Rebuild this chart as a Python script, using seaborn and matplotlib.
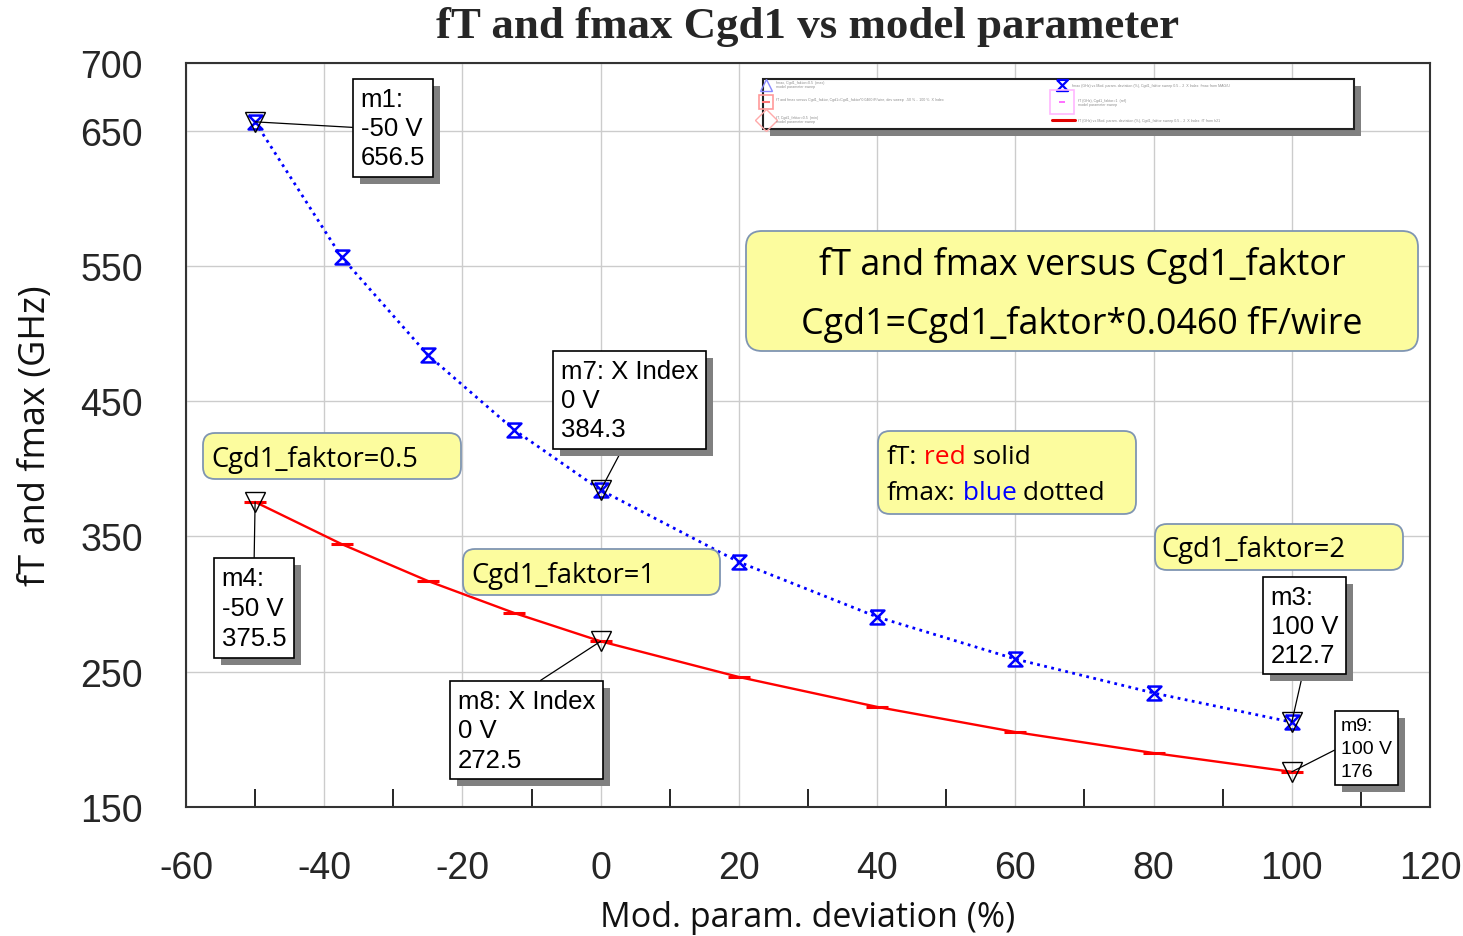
import matplotlib
matplotlib.use("Agg")
import matplotlib.pyplot as plt
import matplotlib.patheffects as pe
from matplotlib.patches import FancyBboxPatch, Rectangle
from matplotlib.lines import Line2D
from matplotlib.transforms import IdentityTransform
import seaborn as sns

W, H = 1463, 937

# ---- data -------------------------------------------------------------
deviation = [-50, -37.5, -25, -12.5, 0, 20, 40, 60, 80, 100]
fmax_ghz = [656.5, 556.6, 484.1, 428.7, 384.3, 331.1, 290.5, 259.4, 234.3, 212.7]
ft_ghz = [375.5, 344.4, 317.1, 293.4, 272.5, 246.1, 224.0, 205.4, 189.9, 176.0]

x_ticks = [-60, -40, -20, 0, 20, 40, 60, 80, 100, 120]
x_minor_ticks = [-50, -30, -10, 10, 30, 50, 70, 90, 110]
y_ticks = [150, 250, 350, 450, 550, 650, 700]

marker_names = ["m1", "m4", "m7", "m8", "m3", "m9"]
marker_kind = ["", "", " X Index", " X Index", "", ""]
marker_dev = [-50, -50, 0, 0, 100, 100]
marker_val = [656.5, 375.5, 384.3, 272.5, 212.7, 176]

title = "fT and fmax Cgd1 vs model parameter"
x_label = "Mod. param. deviation (%)"
y_label = "fT and fmax (GHz)"

# ---- style ------------------------------------------------------------
sns.set_theme(style="white")
plt.rcParams["font.family"] = ["Liberation Sans", "DejaVu Sans"]
plt.rcParams["axes.unicode_minus"] = False

SANS = ["Liberation Sans", "DejaVu Sans"]
UI = ["Open Sans", "DejaVu Sans"]
SERIF = ["Liberation Serif", "DejaVu Serif"]

fig = plt.figure(figsize=(W / 100, H / 100), dpi=100)
ax = fig.add_axes([186 / W, 1 - 808 / H, 1244 / W, 744 / H])
PIX = IdentityTransform()


def px(x, y):
    """top-left pixel coordinates -> display coordinates"""
    return x, H - y


# ---- series -----------------------------------------------------------
hourglass = [(-1, 1), (1, 1), (-1, -1), (1, -1), (-1, 1)]

sns.lineplot(x=deviation, y=fmax_ghz, ax=ax, sort=False, color="#0000ff",
             linewidth=2.0, linestyle=(0, (1, 1.6)), marker=hourglass,
             markersize=10, markeredgewidth=1.8, markerfacecolor="none",
             markeredgecolor="#0000ff", zorder=4)
sns.lineplot(x=deviation, y=ft_ghz, ax=ax, sort=False, color="#ff0000",
             linewidth=1.7, linestyle="-", marker="_", markersize=16,
             markeredgewidth=2.2, markeredgecolor="#ff0000", zorder=4)

# marker triangles on the curves
ax.plot(marker_dev, marker_val, linestyle="none", marker="v", markersize=15,
        markerfacecolor="none", markeredgecolor="black", markeredgewidth=1.0,
        zorder=5)

# ---- axes -------------------------------------------------------------
ax.set_xlim(-60, 120)
ax.set_ylim(150, 700)
ax.set_xticks(x_ticks)
ax.set_xticks(x_minor_ticks, minor=True)
ax.set_yticks(y_ticks)
ax.set_axisbelow(True)
ax.grid(True, which="major", color="#cccccc", linewidth=1.0)
ax.tick_params(axis="x", which="major", length=0, pad=31, labelsize=27)
ax.tick_params(axis="x", which="minor", direction="in", length=13, width=1.2,
               color="black", bottom=True, top=False)
ax.tick_params(axis="y", which="major", length=0, pad=31, labelsize=27,
               left=False)
for lab in ax.get_xticklabels() + ax.get_yticklabels():
    lab.set_family(SANS)
for sp in ax.spines.values():
    sp.set_color("#333333")
    sp.set_linewidth(1.5)

ax.set_xlabel(x_label, fontsize=24.5, family=UI, color="#111111")
ax.set_ylabel(y_label, fontsize=26, family=UI, color="#111111")
ax.xaxis.set_label_coords(0.5, (808 - 918) / 744)
ax.yaxis.set_label_coords((36 - 186) / 1244, (808 - 436) / 744)
ax.xaxis.label.set_va("center")
ax.yaxis.label.set_va("center")

ax.set_title(title, fontsize=32.3, fontweight="bold", family=SERIF,
             y=(808 - 27) / 744, va="center", pad=0)

# ---- marker readouts ----------------------------------------------------
shadow = [pe.withSimplePatchShadow(offset=(5, -5), shadow_rgbFace="#808080",
                                   alpha=1.0)]
# (box left, box top, arrow anchor on box, font size, line spacing)
box_layout = [
    (353, 80, (0.0, 0.5), 18.5, 1.27),
    (214, 559, (0.5, 1.0), 18.5, 1.32),
    (553, 352, (0.48, 0.0), 18.5, 1.27),
    (450, 682, (0.51, 1.0), 18.5, 1.29),
    (1263, 578, (0.5, 0.0), 18.5, 1.26),
    (1335, 712, (0.0, 0.52), 14, 1.45),
]
for name, kind, xd, yv, (bx, by, rel, fs, ls) in zip(
        marker_names, marker_kind, marker_dev, marker_val, box_layout):
    label = f"{name}:{kind}\n{xd:g} V\n{yv:g}"
    pad_px = 0.3 * fs * 100 / 72
    ann = ax.annotate(
        label, xy=(xd, yv), xycoords="data",
        xytext=px(bx + pad_px, by + pad_px), textcoords="figure pixels",
        ha="left", va="top", fontsize=fs, family=SANS, color="black",
        linespacing=ls, zorder=8,
        bbox=dict(boxstyle="square,pad=0.3", fc="white", ec="black", lw=1.2),
        arrowprops=dict(arrowstyle="-", color="black", lw=0.9, relpos=rel,
                        shrinkA=0, shrinkB=0),
        annotation_clip=False)
    ann.get_bbox_patch().set_path_effects(shadow)

# ---- yellow note boxes ----------------------------------------------------
NOTE_FC = "#fcfc9e"
NOTE_EC = "#7f95b2"


def note_box(x0, y0, x1, y1, r=12):
    X0, Y1 = px(x0, y1)
    box = FancyBboxPatch((X0, Y1), x1 - x0, y1 - y0,
                         boxstyle=f"round,pad=0,rounding_size={r}",
                         transform=PIX, fc=NOTE_FC, ec=NOTE_EC, lw=1.3,
                         zorder=6, clip_on=False)
    ax.add_artist(box)


def note_text(x, y, s, size, ha="left", color="black"):
    return ax.text(*px(x, y), s, transform=PIX, ha=ha, va="center",
                   fontsize=size, family=UI, color=color, zorder=7,
                   clip_on=False)


note_box(746, 232, 1418, 352, r=16)
note_text(1082, 266, "fT and fmax versus Cgd1_faktor", 25.8, ha="center")
note_text(1082, 325, "Cgd1=Cgd1_faktor*0.0460 fF/wire", 25.8, ha="center")

note_box(203, 434, 461, 480)
note_text(211, 460, "Cgd1_faktor=0.5", 19.7)

note_box(463, 550, 720, 596)
note_text(471, 576, "Cgd1_faktor=1", 19.7)

note_box(1155, 525, 1403, 571)
note_text(1161, 550, "Cgd1_faktor=2", 19.7)

note_box(878, 432, 1136, 515)
for ypos, parts in ((458, [("fT:", "black"), ("red", "#ff0000"), ("solid", "black")]),
                    (494, [("fmax:", "black"), ("blue", "#0000ff"), ("dotted", "black")])):
    t = note_text(887, ypos, parts[0][0], 19, color=parts[0][1])
    for word, col in parts[1:]:
        t = ax.annotate(" " + word, xy=(1, 0), xycoords=t, va="bottom",
                        ha="left", fontsize=19, family=UI, color=col,
                        zorder=7, annotation_clip=False)

# ---- trace legend strip -----------------------------------------------
lx0, ly0, lx1, ly1 = 763, 80, 1354, 130
ax.add_artist(Rectangle(px(lx0 + 7, ly1 + 7), lx1 - lx0, ly1 - ly0,
                        transform=PIX, fc="#808080", ec="none", zorder=6,
                        clip_on=False))
ax.add_artist(Rectangle(px(lx0, ly1), lx1 - lx0, ly1 - ly0, transform=PIX,
                        fc="white", ec="#222222", lw=1.5, zorder=6,
                        clip_on=False))


def glyph(x, y, **kw):
    ax.add_artist(Line2D([x], [H - y], transform=PIX, zorder=7,
                         clip_on=False, linestyle="none", **kw))


glyph(766, 86, marker="^", markersize=9, mfc="none", mec="#8888ff", mew=1)
glyph(766, 103, marker="s", markersize=10, mfc="none", mec="#ff9999", mew=1.2)
glyph(766, 103, marker="_", markersize=6, mec="#ff7777", mew=1.5)
glyph(766, 121, marker="D", markersize=11, mfc="none", mec="#ffaaaa", mew=1)
glyph(1062, 86, marker=hourglass, markersize=8, mfc="none", mec="#0000ff", mew=1.6)
glyph(1062, 103, marker="s", markersize=17, mfc="none", mec="#ffb6ff", mew=1.2)
glyph(1062, 103, marker="_", markersize=5, mec="#ff55ff", mew=1.2)
ax.add_artist(Line2D([1052, 1075], [H - 121, H - 121], transform=PIX,
                     color="#e00000", lw=2.2, zorder=7, clip_on=False))

legend_rows = [
    (776, 85, "fmax, Cgd1_faktor=0.5  (max)\nmodel parameter sweep"),
    (776, 100, "fT and fmax versus Cgd1_faktor, Cgd1=Cgd1_faktor*0.0460 fF/wire, dev sweep  -50 % .. 100 %  X Index"),
    (776, 120, "fT, Cgd1_faktor=0.5  (min)\nmodel parameter sweep"),
    (1072, 86, "fmax (GHz) vs Mod. param. deviation (%), Cgd1_faktor sweep 0.5 .. 2  X Index  fmax from MAG/U"),
    (1078, 103, "fT (GHz), Cgd1_faktor=1  (ref)\nmodel parameter sweep"),
    (1078, 121, "fT (GHz) vs Mod. param. deviation (%), Cgd1_faktor sweep 0.5 .. 2  X Index  fT from h21"),
]
for x, y, s in legend_rows:
    ax.text(*px(x, y), s, transform=PIX, ha="left", va="center", fontsize=2.6,
            color="#8c8c8c", zorder=7, linespacing=1.3, clip_on=False)

fig.savefig("out.png", dpi=100)
